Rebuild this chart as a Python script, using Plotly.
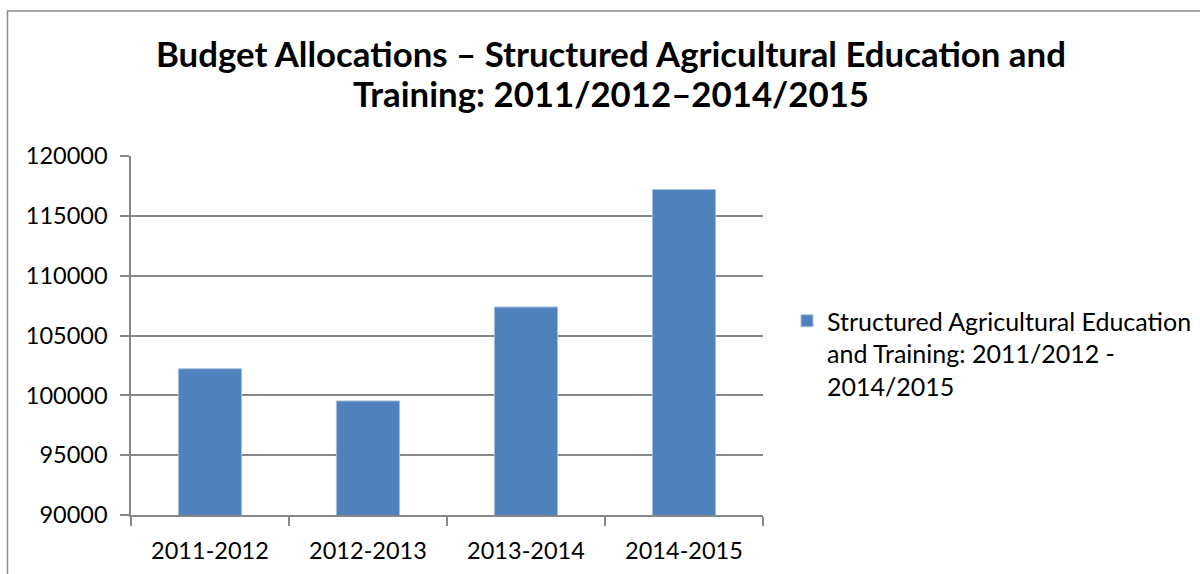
import plotly.graph_objects as go

# Data
years = ["2011-2012", "2012-2013", "2013-2014", "2014-2015"]
allocations = [102220, 99530, 107380, 117200]
series_name = "Structured Agricultural Education<br>and Training: 2011/2012 -<br>2014/2015"
y_ticks = [90000, 95000, 100000, 105000, 110000, 115000, 120000]
title_lines = [
    "Budget Allocations – Structured Agricultural Education and",
    "Training: 2011/2012–2014/2015",
]

BAR_COLOR = "#4F81BD"
GRID_COLOR = "#878787"
FONT = "Lato, Carlito, Calibri, sans-serif"

# Plot area in pixels (1200 x 574 canvas)
W, H = 1200, 574
L, R, T, B = 131, 763, 156, 515


def px_x(px):
    return (px - L) / (R - L)


def px_y(py):
    return (B - py) / (B - T)


fig = go.Figure()
fig.add_trace(
    go.Bar(
        x=years,
        y=allocations,
        name=series_name,
        marker={"color": BAR_COLOR, "line": {"color": "#A7BFDE", "width": 1}},
        width=0.4,
        showlegend=True,
    )
)

# Outer chart border (cropped at right and bottom in the reference)
fig.add_shape(
    type="rect",
    xref="paper",
    yref="paper",
    x0=px_x(7.5),
    x1=px_x(1215),
    y0=px_y(590),
    y1=px_y(11),
    line={"color": "#8c8c8c", "width": 1.5},
    fillcolor="rgba(0,0,0,0)",
    layer="below",
)

# Two-line title, placed line by line for tighter line spacing
for text, cy in zip(title_lines, [53.5, 94]):
    fig.add_annotation(
        text=f"<b>{text}</b>",
        xref="paper",
        yref="paper",
        x=px_x(611),
        y=px_y(cy),
        xanchor="center",
        yanchor="middle",
        showarrow=False,
        font={"family": FONT, "size": 34.8, "color": "#000000"},
    )

fig.update_layout(
    width=W,
    height=H,
    margin={"l": L, "r": W - R, "t": T, "b": H - B, "pad": 0, "autoexpand": False},
    paper_bgcolor="white",
    plot_bgcolor="white",
    font={"family": FONT, "size": 23.5, "color": "#000000"},
    legend={
        "x": px_x(787),
        "y": px_y(298),
        "xanchor": "left",
        "yanchor": "top",
        "valign": "top",
        "font": {"family": FONT, "size": 25},
        "bgcolor": "rgba(0,0,0,0)",
    },
)

fig.update_xaxes(
    showline=True,
    linecolor=GRID_COLOR,
    linewidth=1.5,
    ticks="outside",
    tickson="boundaries",
    ticklen=9,
    tickcolor=GRID_COLOR,
    tickwidth=1.5,
    ticklabelstandoff=14,
    showgrid=False,
)
fig.update_yaxes(
    range=[90000, 120000],
    tickvals=y_ticks,
    tickformat="d",
    showline=True,
    linecolor=GRID_COLOR,
    linewidth=1.5,
    ticks="outside",
    ticklen=9,
    tickcolor=GRID_COLOR,
    tickwidth=1.5,
    ticklabelstandoff=8,
    showgrid=True,
    gridcolor=GRID_COLOR,
    gridwidth=1.5,
    zeroline=False,
)

# drop the default 8px page margin so the figure sits at the window's corner
fig.write_html(
    "out.html",
    config={"displayModeBar": False},
    post_script="document.body.style.margin = '0';",
)
